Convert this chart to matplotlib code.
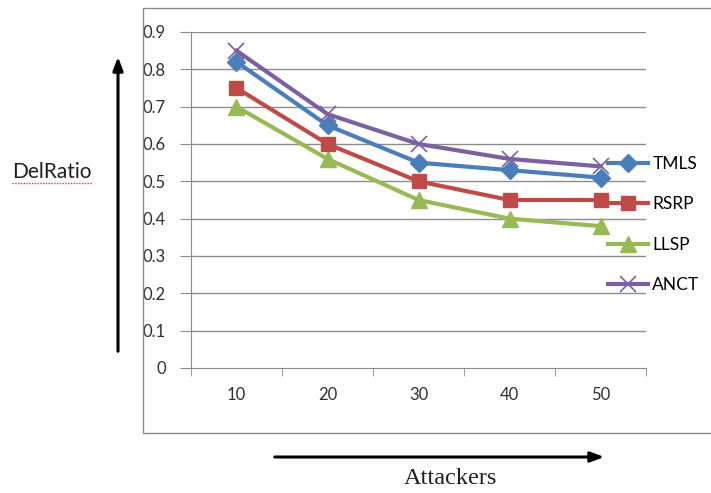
import matplotlib
matplotlib.use("Agg")
import matplotlib.pyplot as plt
from matplotlib.patches import Rectangle
from matplotlib.lines import Line2D

categories = ["10", "20", "30", "40", "50"]
tmls = [0.82, 0.65, 0.55, 0.53, 0.51]
rsrp = [0.75, 0.60, 0.50, 0.45, 0.45]
llsp = [0.70, 0.56, 0.45, 0.40, 0.38]
anct = [0.85, 0.68, 0.60, 0.56, 0.54]
yticks = [0, 0.1, 0.2, 0.3, 0.4, 0.5, 0.6, 0.7, 0.8, 0.9]
ytick_labels = ["0", "0.1", "0.2", "0.3", "0.4", "0.5", "0.6", "0.7", "0.8", "0.9"]

W, H = 711, 493
fig = plt.figure(figsize=(W / 100, H / 100), dpi=100)
fig.patch.set_facecolor("white")

def fx(px):
    return px / W

def fy(py):
    return 1 - py / H

# chart area border
fig.patches.append(Rectangle((fx(143), fy(433)), fx(720) - fx(143), fy(8) - fy(433),
                             transform=fig.transFigure, fill=False,
                             edgecolor="#8a8a8a", linewidth=1.0))

ax = fig.add_axes([fx(191), fy(368), fx(646) - fx(191), fy(32) - fy(368)])
font = "Lato"
x = list(range(len(categories)))
grid_c = "#8c8c8c"

ax.set_xlim(-0.5, len(categories) - 0.5)
ax.set_ylim(0, 0.9)
ax.set_yticks(yticks)
ax.set_yticklabels(ytick_labels, fontsize=12, family=font, color="#303030")
ax.set_xticks(x)
ax.set_xticklabels(categories, fontsize=12, family=font, color="#303030")
ax.tick_params(axis="x", length=0, pad=14)
ax.tick_params(axis="y", length=8, color=grid_c, pad=10)
ax.set_xticks([i - 0.5 for i in range(len(categories) + 1)], minor=True)
ax.tick_params(axis="x", which="minor", length=6, color=grid_c, direction="out")
for yv in yticks[1:]:
    ax.axhline(yv, color=grid_c, linewidth=1.0, zorder=0)
for s in ["top", "right"]:
    ax.spines[s].set_visible(False)
ax.spines["left"].set_color(grid_c)
ax.spines["bottom"].set_color(grid_c)

lw = 3.0
ax.plot(x, tmls, color="#4A7EBB", lw=lw, marker="D", ms=9, label="TMLS", zorder=4)
ax.plot(x, rsrp, color="#BE4B48", lw=lw, marker="s", ms=10.5, label="RSRP", zorder=3)
ax.plot(x, llsp, color="#98B954", lw=lw, marker="^", ms=11, label="LLSP", zorder=2)
ax.plot(x, anct, color="#7D60A0", lw=lw, marker="x", ms=12, mew=1.2, label="ANCT", zorder=5)

leg = fig.legend(loc="upper left", bbox_to_anchor=(fx(608), fy(156)),
                 bbox_transform=fig.transFigure, frameon=False,
                 prop={"family": font, "size": 12.5}, handlelength=2.3,
                 handletextpad=0.25, labelspacing=1.4, borderpad=0,
                 borderaxespad=0, numpoints=1)

# axis title arrows and labels
fig.text(fx(52), fy(172), "DelRatio", family=font, fontsize=15,
         ha="center", va="center", color="#202020")
fig.lines.append(Line2D([fx(12), fx(92)], [fy(183), fy(183)], transform=fig.transFigure,
                        color="#d04040", lw=1.0, ls=(0, (1, 1))))
fig.add_artist(plt.Annotation("", xy=(fx(118), fy(54)), xytext=(fx(118), fy(354)),
                              xycoords="figure fraction", textcoords="figure fraction",
                              arrowprops=dict(arrowstyle="-|>,head_length=0.8,head_width=0.3",
                                              color="black", lw=2.2)))
fig.add_artist(plt.Annotation("", xy=(fx(607), fy(457)), xytext=(fx(272), fy(457)),
                              xycoords="figure fraction", textcoords="figure fraction",
                              arrowprops=dict(arrowstyle="-|>,head_length=0.8,head_width=0.3",
                                              color="black", lw=2.2)))
fig.text(fx(450), fy(478), "Attackers", family="Liberation Serif", fontsize=17.5,
         ha="center", va="center", color="#202020")

fig.savefig("out.png", dpi=100)
